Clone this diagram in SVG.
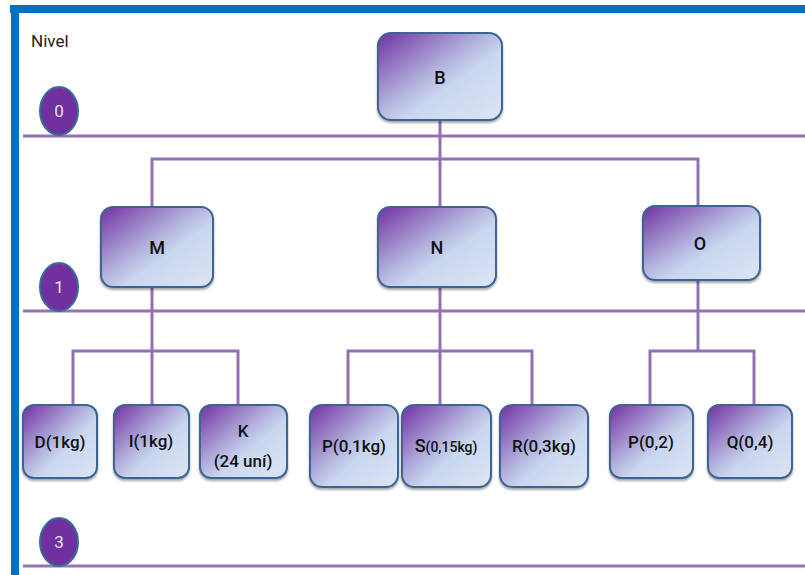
<svg xmlns="http://www.w3.org/2000/svg" width="805" height="575" viewBox="0 0 805 575">
  <defs>
    <linearGradient id="boxFill" x1="0" y1="0" x2="1" y2="1">
      <stop offset="0" stop-color="#7131A2"/>
      <stop offset="0.45" stop-color="#B4B4DE"/>
      <stop offset="0.6" stop-color="#C9D7EF"/>
      <stop offset="1" stop-color="#DCE5F4"/>
    </linearGradient>
    <filter id="shadow" x="-10%" y="-10%" width="120%" height="125%">
      <feGaussianBlur in="SourceAlpha" stdDeviation="1.2"/>
      <feOffset dx="0" dy="2" result="b"/>
      <feComponentTransfer><feFuncA type="linear" slope="0.35"/></feComponentTransfer>
      <feMerge><feMergeNode/><feMergeNode in="SourceGraphic"/></feMerge>
    </filter>
  </defs>
  <style>
    .frame { fill: #0070C0; }
    .level { stroke: #9474B4; stroke-width: 3; fill: none; }
    .link { stroke: #9270B4; stroke-width: 3; fill: none; stroke-linejoin: miter; }
    .box { fill: url(#boxFill); stroke: #3D6592; stroke-width: 2; filter: url(#shadow); }
    .badge { fill: #7030A0; stroke: #3A6C92; stroke-width: 2; }
    .badge-text { font-family: Roboto, "Liberation Sans", sans-serif; font-size: 17px; fill: #E8E0F4; text-anchor: middle; }
    .label { font-family: Roboto, "Liberation Sans", sans-serif; font-weight: 500; font-size: 17px; fill: #111111; text-anchor: middle; }
    .big { font-size: 18px; }
    .small { font-size: 14px; }
    .title { font-family: Roboto, "Liberation Sans", sans-serif; font-size: 17px; fill: #222222; }
  </style>

  <!-- page frame -->
  <rect class="frame" x="10" y="5" width="795" height="8"/>
  <rect class="frame" x="11" y="5" width="8" height="570"/>

  <text class="title" x="31" y="47">Nivel</text>

  <!-- level rules -->
  <g id="levels">
    <line class="level" x1="23" y1="136" x2="805" y2="136"/>
    <line class="level" x1="23" y1="311" x2="805" y2="311"/>
    <line class="level" x1="23" y1="566" x2="805" y2="566"/>
  </g>

  <!-- connectors -->
  <g id="connectors">
    <line class="link" x1="440" y1="120" x2="440" y2="159"/>
    <polyline class="link" points="152,207 152,159 698,159 698,206"/>
    <line class="link" x1="440" y1="159" x2="440" y2="207"/>

    <line class="link" x1="152" y1="287" x2="152" y2="405"/>
    <polyline class="link" points="73,405 73,351 238,351 238,405"/>

    <line class="link" x1="440" y1="287" x2="440" y2="405"/>
    <polyline class="link" points="348,405 348,351 532,351 532,405"/>

    <line class="link" x1="698" y1="280" x2="698" y2="351"/>
    <polyline class="link" points="650,405 650,351 754,351 754,405"/>
  </g>

  <!-- level badges -->
  <g id="badge-0">
    <ellipse class="badge" cx="59" cy="111" rx="19" ry="24"/>
    <text class="badge-text" x="59" y="117">0</text>
  </g>
  <g id="badge-1">
    <ellipse class="badge" cx="59" cy="287" rx="19" ry="24"/>
    <text class="badge-text" x="59" y="293">1</text>
  </g>
  <g id="badge-3">
    <ellipse class="badge" cx="59" cy="542" rx="19" ry="24"/>
    <text class="badge-text" x="59" y="548">3</text>
  </g>

  <!-- level 0 -->
  <g id="node-B">
    <rect class="box" x="378" y="33" width="124" height="87" rx="13"/>
    <text class="label big" x="440" y="84">B</text>
  </g>

  <!-- level 1 -->
  <g id="node-M">
    <rect class="box" x="101" y="207" width="112" height="80" rx="12"/>
    <text class="label big" x="157" y="254">M</text>
  </g>
  <g id="node-N">
    <rect class="box" x="378" y="207" width="118" height="80" rx="12"/>
    <text class="label big" x="437" y="254">N</text>
  </g>
  <g id="node-O">
    <rect class="box" x="643" y="206" width="117" height="74" rx="12"/>
    <text class="label big" x="700" y="250">O</text>
  </g>

  <!-- level 2 -->
  <g id="node-D">
    <rect class="box" x="23" y="405" width="74" height="73" rx="11"/>
    <text class="label" x="60" y="448">D(1kg)</text>
  </g>
  <g id="node-I">
    <rect class="box" x="114" y="405" width="75" height="73" rx="11"/>
    <text class="label" x="151" y="447">I(1kg)</text>
  </g>
  <g id="node-K">
    <rect class="box" x="200" y="405" width="87" height="73" rx="11"/>
    <text class="label" x="243" y="437">K</text>
    <text class="label" x="243" y="467">(24 uní)</text>
  </g>
  <g id="node-P1">
    <rect class="box" x="310" y="405" width="88" height="82" rx="12"/>
    <text class="label" x="354" y="452">P(0,1kg)</text>
  </g>
  <g id="node-S">
    <rect class="box" x="402" y="405" width="89" height="82" rx="12"/>
    <text class="label" x="446" y="452"><tspan class="big">S</tspan><tspan class="small">(0,15kg)</tspan></text>
  </g>
  <g id="node-R">
    <rect class="box" x="500" y="405" width="88" height="82" rx="12"/>
    <text class="label" x="544" y="452">R(0,3kg)</text>
  </g>
  <g id="node-P2">
    <rect class="box" x="610" y="405" width="83" height="73" rx="11"/>
    <text class="label" x="651" y="448">P(0,2)</text>
  </g>
  <g id="node-Q">
    <rect class="box" x="708" y="405" width="84" height="73" rx="11"/>
    <text class="label" x="750" y="448">Q(0,4)</text>
  </g>
</svg>
